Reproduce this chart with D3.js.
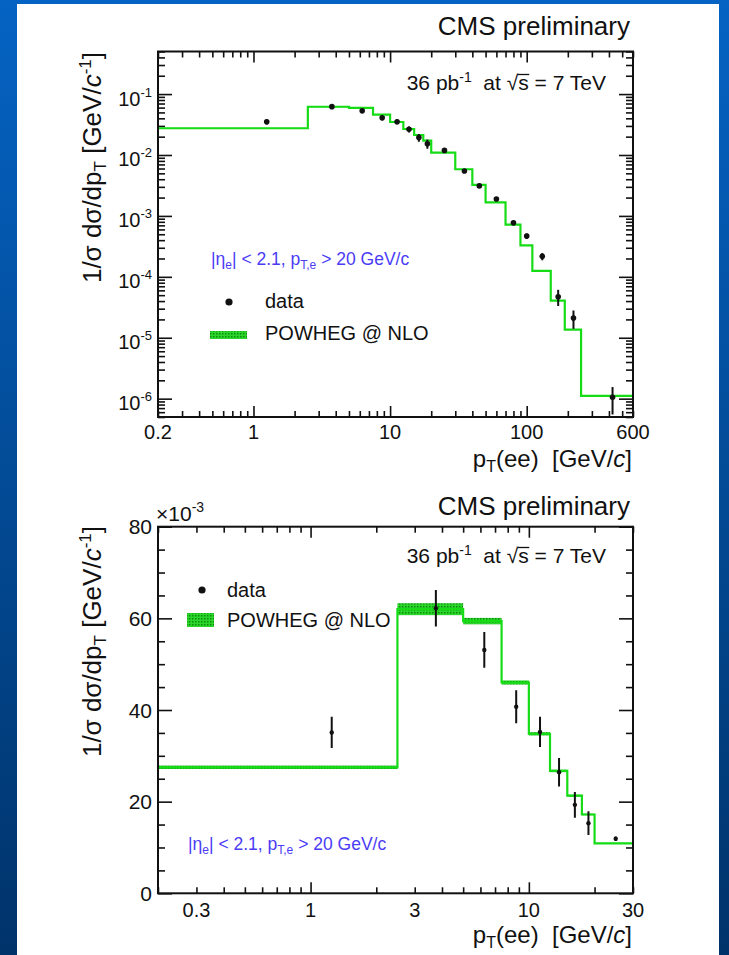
<!DOCTYPE html>
<html><head><meta charset="utf-8">
<script src="https://cdn.jsdelivr.net/npm/d3@7"></script>
<style>
body{margin:0;background:#fff}
svg{display:block}
text{font-family:"Liberation Sans",Arial,Helvetica,sans-serif;fill:#111}
</style></head>
<body>
<svg id="c" width="729" height="955"></svg>
<script>
// ---------------- data ----------------
const binEdges = [0, 2.5, 5, 7.5, 10, 12.5, 15, 17.5, 20, 30, 40, 50, 70, 90, 110, 150, 190, 250, 600];
const powhegValues = [27.5e-3, 62.0e-3, 59.4e-3, 46.0e-3, 34.8e-3, 26.7e-3, 21.3e-3, 17.2e-3, 10.9e-3,
  5.83e-3, 3.24e-3, 1.67e-3, 7.2e-4, 3.28e-4, 1.25e-4, 4.07e-5, 1.36e-5, 1.11e-6];
const powhegErr = [0.37e-3, 1.3e-3, 0.7e-3, 0.45e-3, 0.35e-3, 0.27e-3, 0.21e-3, 0.17e-3, 0.11e-3,
  0.06e-3, 0.035e-3, 0.018e-3, 0.8e-5, 0.4e-5, 0.15e-5, 0.5e-6, 0.18e-6, 0.02e-6];
const dataX = [1.25, 3.75, 6.25, 8.75, 11.25, 13.75, 16.25, 18.75, 25, 35, 45, 60, 80, 100, 130, 170, 220, 425];
const dataY = [35.1e-3, 62.2e-3, 53.1e-3, 40.7e-3, 35.2e-3, 26.4e-3, 19.3e-3, 15.3e-3, 11.9e-3,
  5.47e-3, 3.11e-3, 1.89e-3, 7.7e-4, 4.66e-4, 2.17e-4, 4.72e-5, 2.1e-5, 1.05e-6];
const dataErr = [3.4e-3, 4.0e-3, 3.9e-3, 3.6e-3, 3.3e-3, 3.1e-3, 2.8e-3, 2.6e-3, 0.5e-3,
  0.3e-3, 0.2e-3, 0.12e-3, 0.06e-3, 0.05e-3, 0.03e-3, 1.4e-5, 0.7e-5, 0.5e-6];
const topXTickLabels = [0.2, 1, 10, 100, 600];
const topYTickExps = [-1, -2, -3, -4, -5, -6];
const botXTickLabels = [0.3, 1, 3, 10, 30];
const botYTickLabels = [0, 20, 40, 60, 80];

// ---------------- setup ----------------
const W = 729, H = 955;
const svg = d3.select("#c");
const defs = svg.append("defs");
const g = defs.append("linearGradient").attr("id", "bg").attr("x1", 0).attr("y1", 0).attr("x2", 0).attr("y2", 1);
g.append("stop").attr("offset", "0%").attr("stop-color", "#0563c3");
g.append("stop").attr("offset", "100%").attr("stop-color", "#00336a");
const pat = defs.append("pattern").attr("id", "hatch").attr("width", 3).attr("height", 3).attr("patternUnits", "userSpaceOnUse");
pat.append("rect").attr("width", 3).attr("height", 3).attr("fill", "#2bd62b");
pat.append("rect").attr("width", 1.5).attr("height", 1.5).attr("fill", "#0c8a0c");

svg.append("rect").attr("width", W).attr("height", H).attr("fill", "url(#bg)");
svg.append("rect").attr("x", 17).attr("y", 4).attr("width", 702).attr("height", 951).attr("fill", "#fff");

const GREEN = "#16dc16";

function logMinor(domain) {
  const out = [];
  for (let e = -7; e <= 3; e++) {
    for (let k = 1; k <= 9; k++) {
      const v = k * Math.pow(10, e);
      if (v >= domain[0] * 0.9999 && v <= domain[1] * 1.0001) out.push(v);
    }
  }
  return out;
}
const isPow10 = v => Math.abs(Math.log10(v) - Math.round(Math.log10(v))) < 1e-9;

function panel(cfg) {
  const { x0, x1, y0, y1 } = cfg;
  const x = d3.scaleLog().domain(cfg.xDomain).range([x0, x1]);
  const y = cfg.yLog ? d3.scaleLog().domain(cfg.yDomain).range([y1, y0])
                     : d3.scaleLinear().domain(cfg.yDomain).range([y1, y0]);
  const root = svg.append("g");

  const xs = logMinor(cfg.xDomain);
  const xMaj = xs.filter(isPow10), xMin = xs.filter(v => !isPow10(v));
  const addAxis = (axisGen, vals, size, tr) => {
    const a = root.append("g").attr("transform", tr)
      .call(axisGen.tickValues(vals).tickSize(size).tickFormat(""));
    a.select(".domain").remove();
    a.selectAll("text").remove();
    a.selectAll("line").attr("stroke", "#111").attr("stroke-width", 1.6);
  };
  addAxis(d3.axisBottom(x), xMin, -6, `translate(0,${y1})`);
  addAxis(d3.axisBottom(x), xMaj, -11, `translate(0,${y1})`);
  addAxis(d3.axisTop(x), xMin, -6, `translate(0,${y0})`);
  addAxis(d3.axisTop(x), xMaj, -11, `translate(0,${y0})`);

  let yMaj, yMin;
  if (cfg.yLog) {
    const ys = logMinor(cfg.yDomain);
    yMaj = ys.filter(isPow10); yMin = ys.filter(v => !isPow10(v));
  } else {
    yMaj = d3.range(0, 80.001e-3, 20e-3);
    yMin = d3.range(0, 80.001e-3, 5e-3).filter((v, i) => i % 4 !== 0);
  }
  addAxis(d3.axisLeft(y), yMin, -7, `translate(${x0},0)`);
  addAxis(d3.axisLeft(y), yMaj, -14, `translate(${x0},0)`);
  addAxis(d3.axisRight(y), yMin, -7, `translate(${x1},0)`);
  addAxis(d3.axisRight(y), yMaj, -14, `translate(${x1},0)`);

  const cid = "clip" + cfg.id;
  defs.append("clipPath").attr("id", cid).append("rect")
    .attr("x", x0).attr("y", y0).attr("width", x1 - x0).attr("height", y1 - y0);
  const plot = root.append("g").attr("clip-path", `url(#${cid})`);

  const lo = cfg.xDomain[0], hi = cfg.xDomain[1];
  const bins = powhegValues.map((v, i) => ({ a: binEdges[i], b: binEdges[i + 1], v, e: powhegErr[i] }))
    .filter(d => d.b > lo && d.a < hi)
    .map(d => ({ ...d, a: Math.max(d.a, lo), b: Math.min(d.b, hi) }));

  plot.selectAll("rect.band").data(bins).join("rect").attr("class", "band")
    .attr("x", d => x(d.a)).attr("width", d => x(d.b) - x(d.a))
    .attr("y", d => y(d.v + d.e)).attr("height", d => Math.max(y(d.v - d.e) - y(d.v + d.e), 0))
    .attr("fill", "url(#hatch)");
  const pts = [];
  bins.forEach(d => { pts.push([x(d.a), y(d.v)]); pts.push([x(d.b), y(d.v)]); });
  plot.append("path").attr("d", d3.line()(pts)).attr("fill", "none")
    .attr("stroke", GREEN).attr("stroke-width", 2.2);

  const pd = dataX.map((v, i) => ({ x: v, y: dataY[i], e: dataErr[i] })).filter(d => d.x > lo && d.x < hi);
  plot.selectAll("line.err").data(pd).join("line").attr("class", "err")
    .attr("x1", d => x(d.x)).attr("x2", d => x(d.x))
    .attr("y1", d => y(d.y + d.e)).attr("y2", d => y(Math.max(d.y - d.e, cfg.yDomain[0] * 1.0001)))
    .attr("stroke", "#111").attr("stroke-width", 2);
  plot.selectAll("circle.pt").data(pd).join("circle").attr("class", "pt")
    .attr("cx", d => x(d.x)).attr("cy", d => y(d.y)).attr("r", cfg.r).attr("fill", "#111");

  root.append("rect").attr("x", x0).attr("y", y0).attr("width", x1 - x0).attr("height", y1 - y0)
    .attr("fill", "none").attr("stroke", "#111").attr("stroke-width", 2);

  return { x, y, root };
}

// ---------------- top panel ----------------
const T = panel({ id: "t", x0: 158, x1: 633, y0: 51.5, y1: 417, xDomain: [0.2, 600], yDomain: [5e-7, 0.5], yLog: true, r: 2.8 });
topXTickLabels.forEach(v => {
  svg.append("text").attr("x", T.x(v)).attr("y", 439).attr("text-anchor", "middle").attr("font-size", 20).text(v);
});
topYTickExps.forEach(e => {
  const t = svg.append("text").attr("x", 152).attr("y", T.y(Math.pow(10, e)) + 11.5).attr("text-anchor", "end").attr("font-size", 20);
  t.append("tspan").text("10");
  t.append("tspan").attr("font-size", 13).attr("dy", -9).text("-" + (-e));
});

// ---------------- bottom panel ----------------
const B = panel({ id: "b", x0: 158, x1: 633, y0: 526.7, y1: 893.3, xDomain: [0.2, 30], yDomain: [0, 80e-3], yLog: false, r: 2.2 });
botXTickLabels.forEach(v => {
  svg.append("text").attr("x", B.x(v)).attr("y", 917).attr("text-anchor", "middle").attr("font-size", 20).text(v);
});
botYTickLabels.forEach(v => {
  svg.append("text").attr("x", 152).attr("y", B.y(v * 1e-3) + 7.5).attr("text-anchor", "end").attr("font-size", 21).text(v);
});
{
  const t = svg.append("text").attr("x", 156).attr("y", 521).attr("font-size", 21);
  t.append("tspan").text("\u00d710");
  t.append("tspan").attr("font-size", 14).attr("dy", -9).text("-3");
}

// ---------------- titles / labels ----------------
function yTitle(yTop) {
  const t = svg.append("text").attr("transform", `translate(101,${yTop}) rotate(-90)`)
    .attr("text-anchor", "end").attr("font-size", 26);
  t.append("tspan").text("1/\u03c3 d\u03c3/dp");
  t.append("tspan").attr("font-size", 17).attr("dy", 5).text("T");
  t.append("tspan").attr("dy", -5).text(" [GeV/");
  t.append("tspan").attr("font-style", "italic").text("c");
  t.append("tspan").attr("font-size", 17).attr("dy", -10).text("-1");
  t.append("tspan").attr("dy", 10).text("]");
}
yTitle(52); yTitle(526);

function xTitle(yb) {
  const t = svg.append("text").attr("x", 632).attr("y", yb).attr("text-anchor", "end").attr("font-size", 24);
  t.append("tspan").text("p");
  t.append("tspan").attr("font-size", 16).attr("dy", 5).text("T");
  t.append("tspan").attr("dy", -5).text("(ee)\u00a0\u00a0[GeV/");
  t.append("tspan").attr("font-style", "italic").text("c");
  t.append("tspan").text("]");
}
xTitle(467); xTitle(943);

function cms(yb) {
  svg.append("text").attr("x", 630).attr("y", yb).attr("text-anchor", "end").attr("font-size", 26).text("CMS preliminary");
}
cms(35); cms(515);

function lumi(yb) {
  const t = svg.append("text").attr("x", 606).attr("y", yb).attr("text-anchor", "end").attr("font-size", 21);
  t.append("tspan").text("36 pb");
  t.append("tspan").attr("font-size", 14).attr("dy", -8).text("-1");
  t.append("tspan").attr("dy", 8).text("\u00a0\u00a0at \u221as = 7 TeV");
  const node = t.node();
  const full = node.textContent;
  const i = full.indexOf("\u221a") + 1;
  const p0 = node.getStartPositionOfChar(i), p1 = node.getEndPositionOfChar(i);
  svg.append("line").attr("x1", p0.x - 0.5).attr("x2", p1.x + 0.5).attr("y1", yb - 15.5).attr("y2", yb - 15.5)
    .attr("stroke", "#111").attr("stroke-width", 1.3);
}
lumi(90); lumi(563);

function cuts(xs, yb) {
  const t = svg.append("text").attr("x", xs).attr("y", yb).attr("font-size", 17.5).style("fill", "#4b3cf5");
  t.append("tspan").text("|\u03b7");
  t.append("tspan").attr("font-size", 12).attr("dy", 4).text("e");
  t.append("tspan").attr("dy", -4).text("| < 2.1, p");
  t.append("tspan").attr("font-size", 12).attr("dy", 4).text("T,e");
  t.append("tspan").attr("dy", -4).text(" > 20 GeV/c");
}
cuts(211, 265); cuts(188, 850);

function legend(dot, dataTx, sw, powTx) {
  svg.append("circle").attr("cx", dot[0]).attr("cy", dot[1]).attr("r", 3.6).attr("fill", "#111");
  svg.append("text").attr("x", dataTx[0]).attr("y", dataTx[1]).attr("font-size", 20).text("data");
  svg.append("rect").attr("x", sw[0]).attr("y", sw[1]).attr("width", sw[2]).attr("height", sw[3]).attr("fill", "url(#hatch)");
  svg.append("text").attr("x", powTx[0]).attr("y", powTx[1]).attr("font-size", 20).text("POWHEG @ NLO");
}
legend([229, 302], [265, 308], [210, 331, 37, 8], [265, 340]);
legend([202, 590], [227, 597], [187, 613, 27, 14], [227, 627]);
</script>
</body></html>
